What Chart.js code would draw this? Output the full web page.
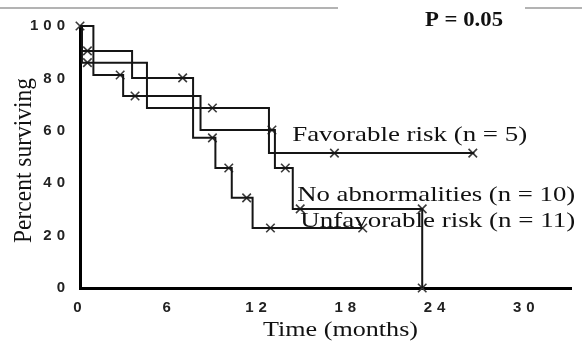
<!DOCTYPE html>
<html>
<head>
<meta charset="utf-8">
<style>
  body { margin: 0; background: #fff; }
  canvas { display: block; }
</style>
</head>
<body>
<canvas id="km" width="582" height="345"></canvas>
<script src="https://cdn.jsdelivr.net/npm/chart.js@4.4.1/dist/chart.umd.min.js"></script>
<script>
// tick labels
const xTicks = [0, 6, 12, 18, 24, 30];
const yTicks = [0, 20, 40, 60, 80, 100];

// curve labels
const labelFav = "Favorable risk (n = 5)";
const labelNoAbn = "No abnormalities (n = 10)";
const labelUnfav = "Unfavorable risk (n = 11)";

// favorable risk: step times (months) and survival (%) after each step
const favTime = [0, 0.13, 4.5, 12.7, 26.5];
const favSurv = [100, 86, 68.7, 51.5, 51.5];
const favCensorTime = [0.5, 8.9, 17.1, 26.4];
const favCensorSurv = [86, 68.7, 51.5, 51.5];

// no abnormalities
const noAbnTime = [0, 0.9, 2.9, 8.1, 13.1, 14.3, 23.0];
const noAbnSurv = [100, 81.3, 73.3, 60.3, 45.8, 30.2, 0];
const noAbnCensorTime = [0, 2.7, 3.7, 12.9, 13.8, 14.8, 23.0, 23.0];
const noAbnCensorSurv = [100, 81.3, 73.3, 60.3, 45.8, 30.2, 30.2, 0];

// unfavorable risk
const unfavTime = [0, 0.13, 3.5, 7.6, 9.1, 10.2, 11.6, 19.0];
const unfavSurv = [100, 90.5, 80.2, 57.3, 45.8, 34.4, 22.9, 22.9];
const unfavCensorTime = [0.5, 6.9, 8.9, 10.0, 11.2, 12.8, 19.0];
const unfavCensorSurv = [90.5, 80.2, 57.3, 45.8, 34.4, 22.9, 22.9];

const toPts = (xs, ys) => xs.map((x, i) => ({ x: x, y: ys[i] }));

const stepSet = (name, xs, ys) => ({
  label: name,
  data: toPts(xs, ys),
  showLine: true,
  stepped: true,
  borderColor: "#151515",
  borderWidth: 2,
  pointRadius: 0,
  clip: false,
});

const censorSet = (name, xs, ys) => ({
  label: name + " censored",
  data: toPts(xs, ys),
  showLine: false,
  pointStyle: "crossRot",
  pointRadius: 6,
  borderColor: "#3a3a3a",
  borderWidth: 1.6,
  backgroundColor: "#3a3a3a",
  clip: false,
});

const serif = '"Liberation Serif", "Times New Roman", serif';
const tickFont = { family: '"Liberation Sans", Arial, sans-serif', size: 15, weight: "bold" };

// draw text squeezed/stretched to a given width
function fitText(ctx, text, x, y, width, font, sy) {
  ctx.font = font;
  const w = ctx.measureText(text).width;
  ctx.save();
  ctx.translate(x, y);
  ctx.scale(width / w, sy || 1);
  ctx.fillText(text, 0, 0);
  ctx.restore();
}

const tickSpacing = {
  id: "tickSpacing",
  beforeDraw(chart) {
    chart.ctx.letterSpacing = "5px";
  },
  beforeDatasetsDraw(chart) {
    chart.ctx.letterSpacing = "0px";
  },
};

const annotations = {
  id: "annotations",
  afterDraw(chart) {
    const ctx = chart.ctx;
    const xs = chart.scales.x;
    const ys = chart.scales.y;
    ctx.save();
    ctx.letterSpacing = "0px";

    // faint rule at the top
    ctx.strokeStyle = "#9a9a9a";
    ctx.lineWidth = 1.5;
    ctx.beginPath();
    ctx.moveTo(0, 8);
    ctx.lineTo(338, 8);
    ctx.moveTo(525, 8);
    ctx.lineTo(582, 8);
    ctx.stroke();

    ctx.fillStyle = "#111";
    ctx.textAlign = "left";
    ctx.textBaseline = "alphabetic";

    fitText(ctx, "P = 0.05", 425, 26, 78, "bold 20px " + serif);

    fitText(ctx, labelFav, xs.getPixelForValue(14.26), ys.getPixelForValue(56.1), 235, "21px " + serif);
    fitText(ctx, labelNoAbn, xs.getPixelForValue(14.6), ys.getPixelForValue(33.2), 278, "21px " + serif);
    fitText(ctx, labelUnfav, xs.getPixelForValue(14.8), ys.getPixelForValue(23.3), 275, "21px " + serif);

    // axis titles
    fitText(ctx, "Time (months)", 263, 336, 155, "21px " + serif);

    ctx.save();
    ctx.translate(31, 243);
    ctx.rotate(-Math.PI / 2);
    fitText(ctx, "Percent surviving", 0, 0, 165, "21px " + serif, 1.15);
    ctx.restore();

    ctx.restore();
  },
};

const config = {
  type: "scatter",
  data: {
    datasets: [
      stepSet(labelFav, favTime, favSurv),
      stepSet(labelNoAbn, noAbnTime, noAbnSurv),
      stepSet(labelUnfav, unfavTime, unfavSurv),
      censorSet(labelFav, favCensorTime, favCensorSurv),
      censorSet(labelNoAbn, noAbnCensorTime, noAbnCensorSurv),
      censorSet(labelUnfav, unfavCensorTime, unfavCensorSurv),
    ],
  },
  options: {
    responsive: false,
    animation: false,
    layout: { padding: { top: 26, right: 11, left: 0, bottom: 0 } },
    plugins: {
      legend: { display: false },
      tooltip: { enabled: false },
    },
    scales: {
      x: {
        type: "linear",
        min: 0,
        max: 33,
        afterBuildTicks: (s) => { s.ticks = xTicks.map((v) => ({ value: v })); },
        afterFit: (s) => { s.height = 57; },
        grid: { display: false },
        border: { display: true, width: 3, color: "#000" },
        ticks: { font: tickFont, color: "#222", padding: 3, maxRotation: 0, autoSkip: false },
      },
      y: {
        min: 0,
        max: 100,
        afterBuildTicks: (s) => { s.ticks = yTicks.map((v) => ({ value: v })); },
        afterFit: (s) => { s.width = 80; },
        grid: { display: false },
        border: { display: true, width: 3, color: "#000" },
        ticks: { font: tickFont, color: "#222", padding: 2 },
      },
    },
  },
  plugins: [tickSpacing, annotations],
};

const kmChart = new Chart(document.getElementById("km"), config);
</script>
</body>
</html>
